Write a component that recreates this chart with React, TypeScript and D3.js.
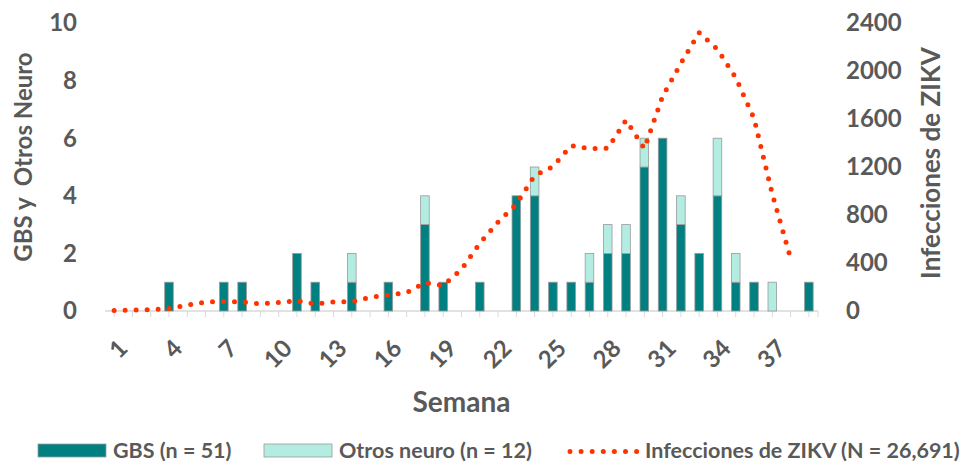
import React from "react";
import * as d3 from "d3";

// semanas 1..39
const weeks = d3.range(1, 40);

// casos por semana
const gbs = [0,0,0,1,0,0,1,1,0,0,2,1,0,1,0,1,0,3,1,0,1,0,4,4,1,1,1,2,2,5,6,3,2,4,1,1,0,0,1];
const otros = [0,0,0,0,0,0,0,0,0,0,0,0,0,1,0,0,0,1,0,0,0,0,0,1,0,0,1,1,1,1,0,1,0,2,1,0,1,0,0];

// infecciones ZIKV (semanas 1..38)
const zikv = [5,8,10,20,50,75,80,75,60,72,86,58,75,78,114,133,153,235,212,347,564,742,889,1128,1203,1378,1353,1356,1590,1353,1789,2064,2320,2180,1944,1606,975,439];

const leftTicks = [0, 2, 4, 6, 8, 10];
const rightTicks = [0, 400, 800, 1200, 1600, 2000, 2400];
const xLabels = [1, 4, 7, 10, 13, 16, 19, 22, 25, 28, 31, 34, 37];

const W = 976;
const H = 464;
const FONT = "Lato, 'Open Sans', sans-serif";
const GRAY = "#595959";
const TEAL = "#008080";
const MINT = "#b3ede2";
const RED = "#ff3300";

export default function App() {
  const x = d3.scaleBand<number>().domain(weeks).range([105, 818]).padding(0);
  const cx = (w: number) => (x(w) as number) + x.bandwidth() / 2;
  const yL = d3.scaleLinear().domain([0, 10]).range([311, 23]);
  const yR = d3.scaleLinear().domain([0, 2400]).range([311, 23]);
  const barW = 8.6;

  const line = d3
    .line<number>()
    .x((_, i) => cx(weeks[i]))
    .y((d) => yR(d));

  return (
    <svg
      width={W}
      height={H}
      style={{ position: "absolute", left: 0, top: 0, background: "#fff" }}
      fontFamily={FONT}
      fontWeight="bold"
    >
      {/* eje x */}
      <line x1={105} x2={818} y1={311} y2={311} stroke="#d9d9d9" strokeWidth={1.5} />
      {weeks.map((w) => (
        <line key={"t" + w} x1={cx(w)} x2={cx(w)} y1={311} y2={317} stroke="#d9d9d9" strokeWidth={1} />
      ))}
      <line x1={818} x2={818} y1={311} y2={317} stroke="#d9d9d9" strokeWidth={1} />

      {/* barras */}
      {weeks.map((w, i) => {
        const g = gbs[i];
        const o = otros[i];
        return (
          <g key={"b" + w}>
            {g > 0 && (
              <rect
                x={cx(w) - barW / 2}
                y={yL(g)}
                width={barW}
                height={yL(0) - yL(g)}
                fill={TEAL}
                stroke="#9a9a9a"
                strokeWidth={0.8}
              />
            )}
            {o > 0 && (
              <rect
                x={cx(w) - barW / 2}
                y={yL(g + o)}
                width={barW}
                height={yL(g) - yL(g + o)}
                fill={MINT}
                stroke="#9a9a9a"
                strokeWidth={0.8}
              />
            )}
          </g>
        );
      })}

      {/* línea punteada */}
      <path
        d={line(zikv) || ""}
        fill="none"
        stroke={RED}
        strokeWidth={5}
        strokeLinecap="round"
        strokeLinejoin="round"
        strokeDasharray="0 11"
      />

      {/* eje izquierdo */}
      {leftTicks.map((t) => (
        <text key={"l" + t} x={77} y={yL(t)} dy="0.35em" textAnchor="end" fontSize={24} fill={GRAY}>
          {t}
        </text>
      ))}
      <text
        transform={`translate(24,157) rotate(-90)`}
        textAnchor="middle"
        dy="0.35em"
        fontSize={24}
        fill={GRAY}
        style={{ whiteSpace: "pre" }}
      >
        {"GBS y  Otros Neuro"}
      </text>

      {/* eje derecho */}
      {rightTicks.map((t) => (
        <text key={"r" + t} x={846} y={yR(t)} dy="0.35em" textAnchor="start" fontSize={24} fill={GRAY}>
          {t}
        </text>
      ))}
      <text
        transform={`translate(931,163) rotate(-90)`}
        textAnchor="middle"
        dy="0.35em"
        fontSize={26}
        fill={GRAY}
      >
        Infecciones de ZIKV
      </text>

      {/* etiquetas x */}
      {xLabels.map((w) => (
        <text
          key={"x" + w}
          transform={`translate(${cx(w) + 9},${344}) rotate(-45)`}
          textAnchor="end"
          dy="0.35em"
          fontSize={24}
          fill={GRAY}
        >
          {w}
        </text>
      ))}
      <text x={461.5} y={412} textAnchor="middle" fontSize={28} fill={GRAY}>
        Semana
      </text>

      {/* leyenda */}
      <rect x={38} y={444} width={68} height={13} fill={TEAL} stroke="#9a9a9a" strokeWidth={0.8} />
      <text x={113} y={458} fontSize={21.5} fill={GRAY}>
        GBS (n = 51)
      </text>
      <rect x={264} y={444} width={68} height={13} fill={MINT} stroke="#9a9a9a" strokeWidth={0.8} />
      <text x={339} y={458} fontSize={21.5} fill={GRAY}>
        Otros neuro (n = 12)
      </text>
      <line
        x1={570}
        x2={637}
        y1={451.5}
        y2={451.5}
        stroke={RED}
        strokeWidth={5}
        strokeLinecap="round"
        strokeDasharray="0 11.1"
      />
      <text x={645} y={458} fontSize={21.5} fill={GRAY}>
        Infecciones de ZIKV (N = 26,691)
      </text>
    </svg>
  );
}
